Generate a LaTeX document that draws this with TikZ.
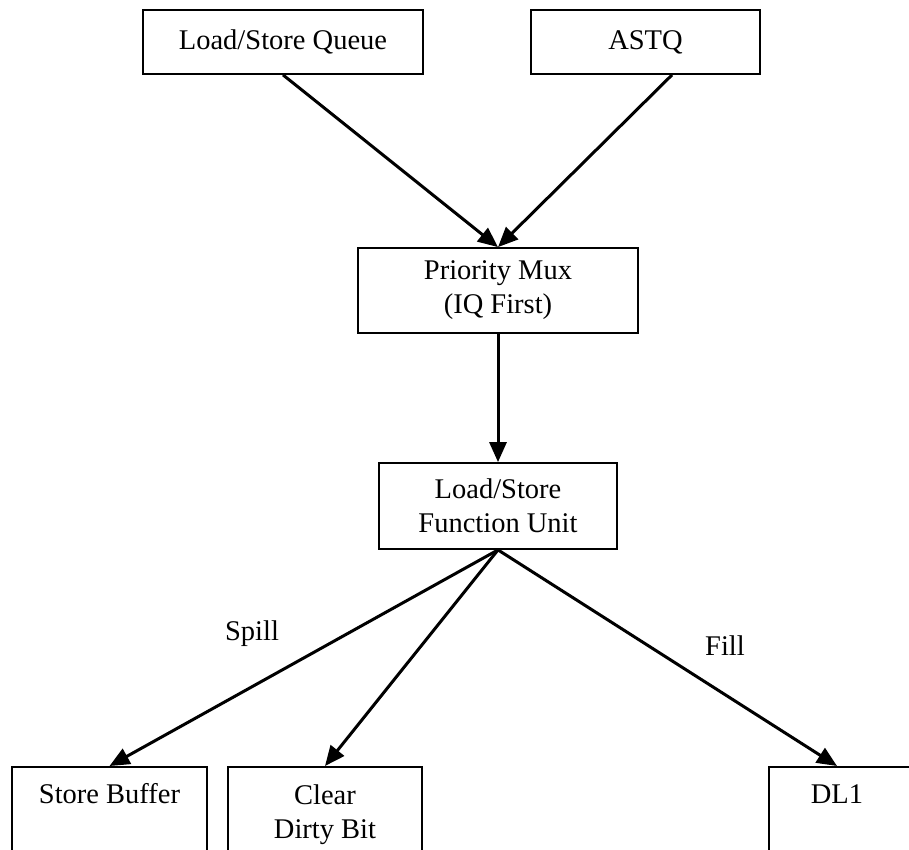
\documentclass[tikz,border=0pt]{standalone}
\usepackage{fontspec}
\setmainfont{Liberation Serif}
\usetikzlibrary{arrows.meta,calc}
\begin{document}
\begin{tikzpicture}[x=1pt,y=1pt,
  txt/.style={font=\fontsize{28.5}{34}\selectfont},
  box/.style={txt, draw, line width=1.8pt, rectangle, inner sep=0pt, align=center},
  lbl/.style={txt, inner sep=0pt, align=center},
  flow/.style={line width=3pt, -{Triangle[length=20pt,width=17pt]}}]
\useasboundingbox (0,0) rectangle (909,-850);
\clip (0,0) rectangle (909,-850);

% sources
\node[box, minimum width=280pt, minimum height=64pt] (lsq) at (283,-42) {Load/Store Queue};
\node[box, minimum width=229pt, minimum height=64pt] (astq) at (645.5,-42) {ASTQ};

% arbitration and execution
\node[box, minimum width=280pt, minimum height=85pt] (mux) at (498,-290.5) {Priority Mux\\(IQ First)};
\node[box, minimum width=238pt, minimum height=86pt] (fu) at (498,-506) {Load/Store\\Function Unit};

% destinations (boxes run past the lower edge)
\node[box, minimum width=195pt, minimum height=130pt, anchor=north] (sb) at (109.5,-766) {};
\node[box, minimum width=194pt, minimum height=130pt, anchor=north] (cdb) at (325,-766) {};
\node[box, minimum width=180pt, minimum height=130pt, anchor=north west] (dl1) at (768,-766) {};
\node[lbl, anchor=base] (sbt) at (109.5,-803) {Store Buffer};
\node[lbl, anchor=north] (cdbt) at (325,-785) {Clear\\Dirty Bit};
\node[lbl, anchor=base] (dl1t) at (837,-803) {DL1};

% connectors
\draw[flow] (lsq.south) -- (mux.north);
\draw[flow] ($(astq.south)+(26.5,0)$) -- (mux.north);
\draw[flow] (mux.south) -- (fu.north);
\draw[flow] (fu.south) -- (sb.north);
\draw[flow] (fu.south) -- (cdb.north);
\draw[flow] (fu.south) -- ($(dl1.north west)+(69,0)$);

% edge labels
\node[lbl] (spill) at (252,-634) {Spill};
\node[lbl] (fill) at (725,-646) {Fill};
\end{tikzpicture}
\end{document}
